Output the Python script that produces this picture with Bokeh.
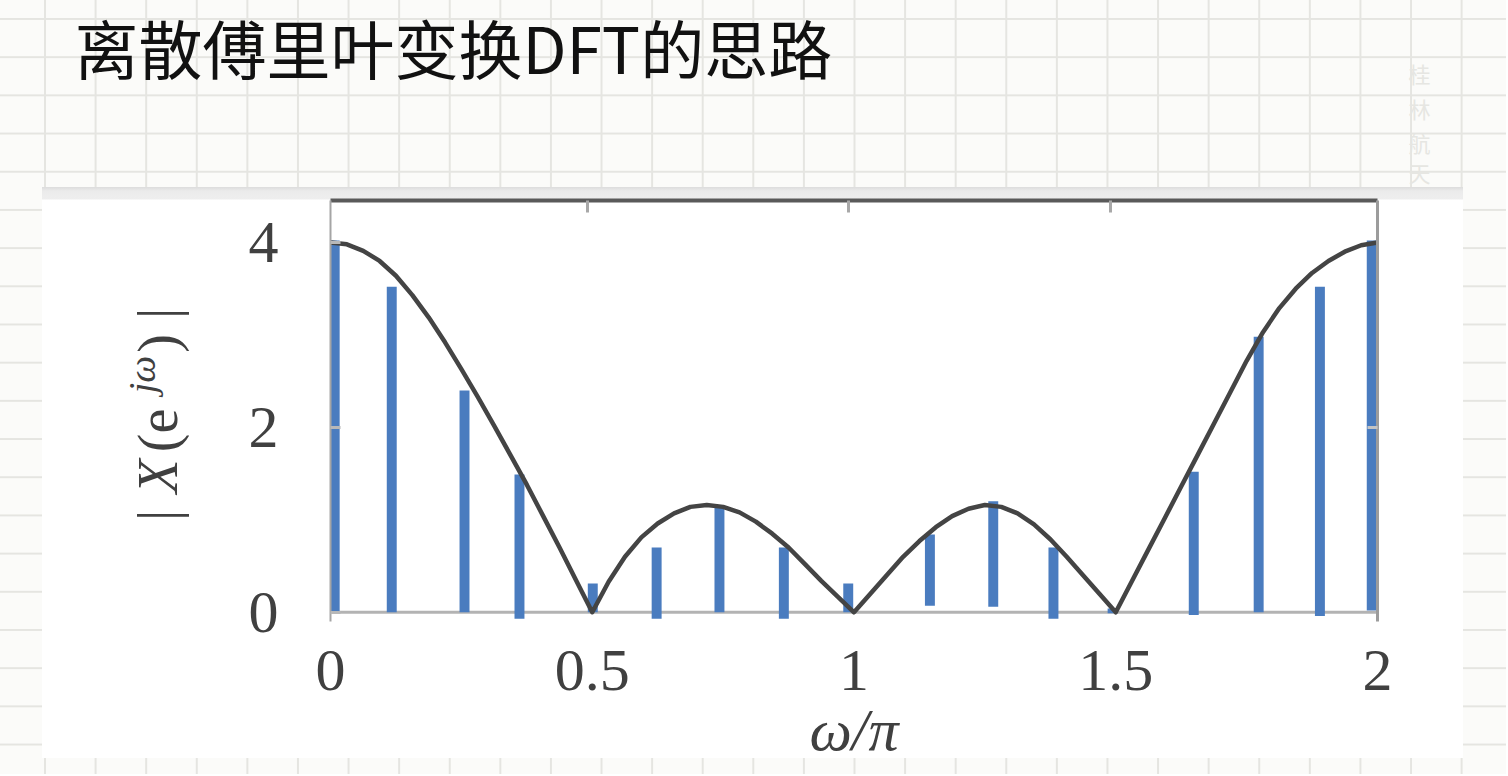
from math import pi

from bokeh.plotting import figure
from bokeh.models import Range1d, LinearAxis, FixedTicker, Label, Span, Spacer, ColumnDataSource
from bokeh.layouts import column, row
from bokeh.embed import file_html
from bokeh.resources import INLINE

## Données

title_text = "离散傅里叶变换DFT的思路"
watermark_chars = ["桂", "林", "航", "天"]

# raies bleues : position (omega/pi), haut et bas de chaque raie
bar_x = [0.008, 0.117, 0.256, 0.361, 0.501, 0.623, 0.743, 0.866, 0.989,
         1.145, 1.266, 1.381, 1.494, 1.649, 1.773, 1.890, 1.989]
bar_top = [4.02, 3.52, 2.40, 1.49, 0.31, 0.70, 1.14, 0.70, 0.31,
           0.84, 1.20, 0.70, 0.04, 1.52, 2.98, 3.52, 4.02]
bar_bottom = [0, 0, 0, -0.07, 0, -0.07, 0, -0.07, 0,
              0.07, 0.06, -0.07, -0.01, -0.03, 0, -0.04, 0.02]

# courbe |X(e^jw)| relevée point par point
curve_x = [0, 0.0313, 0.0625, 0.0938, 0.125, 0.1563, 0.1875, 0.2188, 0.25,
           0.2813, 0.3125, 0.3438, 0.375, 0.4063, 0.4375, 0.4688, 0.5,
           0.5313, 0.5625, 0.5938, 0.625, 0.6563, 0.6875, 0.7188, 0.75,
           0.7813, 0.8125, 0.8438, 0.875, 0.9063, 0.9375, 0.9688, 1.0,
           1.0313, 1.0625, 1.0938, 1.125, 1.1563, 1.1875, 1.2188, 1.25,
           1.2813, 1.3125, 1.3438, 1.375, 1.4063, 1.4375, 1.4688, 1.5,
           1.5313, 1.5625, 1.5938, 1.625, 1.6563, 1.6875, 1.7188, 1.75,
           1.7813, 1.8125, 1.8438, 1.875, 1.9063, 1.9375, 1.9688, 2.0]
curve_y = [4.00, 3.98, 3.91, 3.80, 3.64, 3.43, 3.19, 2.92, 2.63,
           2.33, 2.02, 1.70, 1.38, 1.04, 0.70, 0.35, 0.00,
           0.33, 0.60, 0.81, 0.96, 1.07, 1.14, 1.16, 1.14,
           1.08, 0.98, 0.85, 0.70, 0.52, 0.34, 0.17, 0.00,
           0.20, 0.40, 0.60, 0.77, 0.92, 1.04, 1.12, 1.16,
           1.14, 1.07, 0.95, 0.79, 0.60, 0.40, 0.20, 0.00,
           0.34, 0.68, 1.02, 1.36, 1.70, 2.04, 2.38, 2.72,
           3.03, 3.29, 3.50, 3.67, 3.80, 3.90, 3.97, 4.00]

x_ticks = [0, 0.5, 1, 1.5, 2]
x_tick_labels = ["0", "0.5", "1", "1.5", "2"]
y_ticks = [0, 2, 4]
y_tick_labels = ["0", "2", "4"]
top_ticks = [0.49, 0.99, 1.49]
right_ticks = [2]

x_label = "ω/π"
# morceaux du titre vertical |X(e^{jω})|
y_label_parts = ["|", "X", "(e", "jω", ")", "|"]

serif = "Liberation Serif"
blue = "#4a7cbf"
ink = "#404040"

panel_css = {"background": "linear-gradient(to bottom, #dcdcdc 0px, #ebebeb 4px, #eeeeee 12px, "
                           "#ffffff 13px, #ffffff 571px, transparent 571px)"}

## En-tête (titre sur papier quadrillé)

head = figure(width=1506, height=187, x_range=Range1d(0, 1506), y_range=Range1d(0, 187),
              x_axis_type=None, y_axis_type=None, toolbar_location=None, output_backend="svg",
              min_border=0, background_fill_color=None, border_fill_color=None,
              outline_line_color=None)
head.grid.visible = False

head.add_layout(Label(x=74, y=142, text=title_text, text_font="Noto Sans CJK SC",
                      text_font_size="64px", text_color="#111111", text_baseline="middle"))

wm_y = [115, 80, 46, 16]
for ch, yy in zip(watermark_chars, wm_y):
    head.add_layout(Label(x=1419, y=yy, text=ch, text_font="Noto Sans CJK SC",
                          text_font_size="22px", text_color="#e6e6e2",
                          text_align="center", text_baseline="middle"))

## Bande du titre vertical de l'axe y (cadre aligné sur celui du graphique : 173 x 405)

ylab = figure(width=173, height=571, x_range=Range1d(0, 173), y_range=Range1d(0, 405),
              x_axis_type=None, y_axis_type=None, toolbar_location=None, output_backend="svg",
              min_border_left=0, min_border_right=0, min_border_top=13, min_border_bottom=153,
              background_fill_color=None, border_fill_color=None, outline_line_color=None)
ylab.grid.visible = False
ylab.styles = panel_css

# centres des morceaux (texte tourné de 90°)
part_y = [90, 129, 175, 231, 262, 292]
part_x = [115, 115, 115, 99, 115, 115]
part_size = ["56px", "56px", "56px", "38px", "56px", "56px"]
part_style = ["normal", "italic", "normal", "italic", "normal", "normal"]
for txt, yy, xx, sz, st in zip(y_label_parts, part_y, part_x, part_size, part_style):
    ylab.add_layout(Label(x=xx, y=yy, text=txt, angle=pi / 2, text_font=serif,
                          text_font_size=sz, text_font_style=st, text_color=ink,
                          text_align="center", text_baseline="middle"))

## Graphique principal

p = figure(width=1248, height=587, x_range=Range1d(0, 2), y_range=Range1d(-0.1, 4.454),
           output_backend="svg", toolbar_location=None, tools="",
           min_border_left=115, min_border_right=86, min_border_top=13, min_border_bottom=153,
           background_fill_color="white", border_fill_color=None, outline_line_color=None)
p.grid.visible = False
p.styles = panel_css

# ligne de base y = 0
p.add_layout(Span(location=0, dimension="width", line_color="#b3b3b3", line_width=3, level="underlay"))

src_bars = ColumnDataSource(dict(x=bar_x, top=bar_top, bottom=bar_bottom))
p.vbar(x="x", top="top", bottom="bottom", width=0.019, source=src_bars,
       fill_color=blue, line_color=None)

src_curve = ColumnDataSource(dict(x=curve_x, y=curve_y))
p.line(x="x", y="y", source=src_curve, line_color="#444444", line_width=4.5,
       line_join="round", line_cap="round")

# axe du bas : étiquettes et titre
xa = p.xaxis[0]
xa.ticker = FixedTicker(ticks=x_ticks)
xa.major_label_overrides = dict(zip(x_ticks, x_tick_labels))
xa.axis_line_color = None
xa.major_tick_line_color = None
xa.minor_tick_line_color = None
xa.major_label_text_font = serif
xa.major_label_text_font_size = "60px"
xa.major_label_text_color = ink
xa.major_label_standoff = 23
xa.axis_label = x_label
xa.axis_label_text_font = serif
xa.axis_label_text_font_size = "60px"
xa.axis_label_text_font_style = "italic"
xa.axis_label_text_color = ink
xa.axis_label_standoff = 4

# axe de gauche
ya = p.yaxis[0]
ya.ticker = FixedTicker(ticks=y_ticks)
ya.major_label_overrides = dict(zip(y_ticks, y_tick_labels))
ya.axis_line_color = "#a5a5a5"
ya.axis_line_width = 2
ya.major_tick_in = 10
ya.major_tick_out = 0
ya.major_tick_line_color = "#b8b8b8"
ya.major_tick_line_width = 3
ya.minor_tick_line_color = None
ya.major_label_text_font = serif
ya.major_label_text_font_size = "60px"
ya.major_label_text_color = ink
ya.major_label_standoff = 52

# cadre : haut et droite (graduations sans texte)
top_axis = LinearAxis(ticker=FixedTicker(ticks=top_ticks), axis_line_color="#5a5a5a",
                      axis_line_width=4, major_tick_in=12, major_tick_out=0,
                      major_tick_line_color="#a8a8a8", major_tick_line_width=3,
                      minor_tick_line_color=None, major_label_text_font_size="1px",
                      major_label_overrides={t: "" for t in top_ticks},
                      major_label_standoff=0)
p.add_layout(top_axis, "above")

right_axis = LinearAxis(ticker=FixedTicker(ticks=right_ticks), axis_line_color="#9c9c9c",
                        axis_line_width=3, major_tick_in=10, major_tick_out=0,
                        major_tick_line_color="#c4c4c4", major_tick_line_width=3,
                        minor_tick_line_color=None, major_label_text_font_size="1px",
                        major_label_overrides={t: "" for t in right_ticks},
                        major_label_standoff=0)
p.add_layout(right_axis, "right")

## Mise en page

paper = {
    "background-color": "#fbfbf9",
    "background-image": "linear-gradient(to right, #e5e5e1 2px, transparent 2px), "
                        "linear-gradient(to bottom, #e5e5e1 2px, transparent 2px)",
    "background-size": "50.6px 38.2px",
    "background-position": "44px 18px",
}

layout = column(head, row(Spacer(width=42, height=587), ylab, p), styles=paper)

open("out.html", "w").write(file_html(layout, INLINE))
